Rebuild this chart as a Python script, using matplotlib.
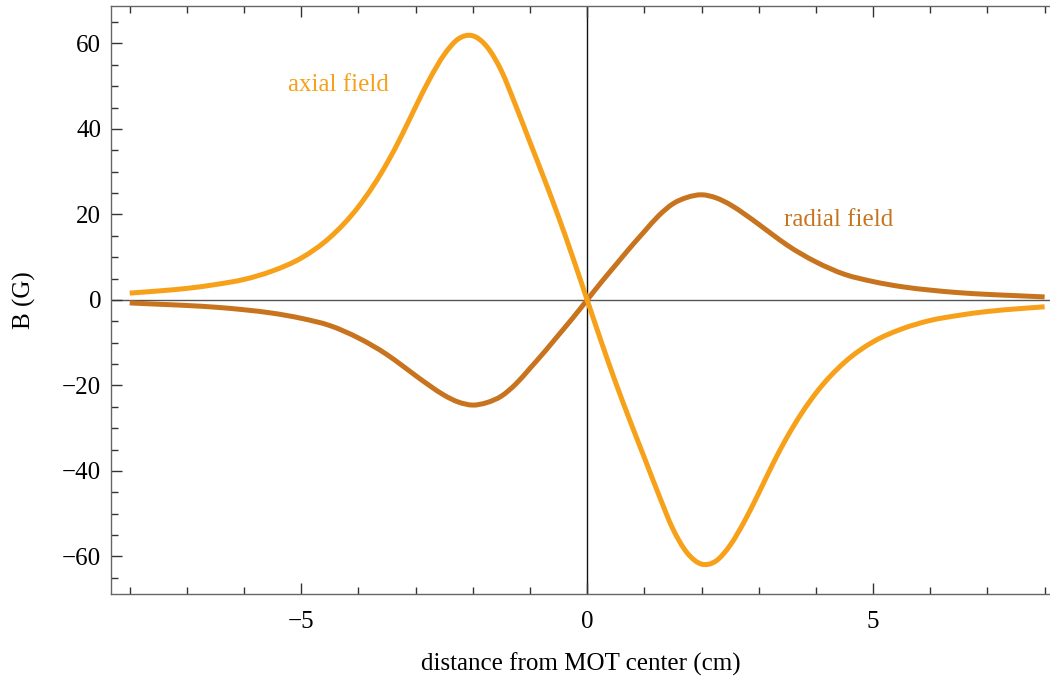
import matplotlib
matplotlib.use("Agg")
import matplotlib.pyplot as plt
from matplotlib.ticker import MultipleLocator, FixedLocator
from matplotlib.path import Path
from matplotlib.patches import PathPatch

# distance from MOT center (cm)
x_vals = [-8.0, -7.5, -7.0, -6.5, -6.0, -5.5, -5.0, -4.5, -4.0, -3.5,
          -3.25, -3.0, -2.75, -2.5, -2.25, -2.0, -1.75, -1.5, -1.25, -1.0,
          -0.75, -0.5, -0.25, 0.0, 0.25, 0.5, 0.75, 1.0, 1.25, 1.5,
          1.75, 2.0, 2.25, 2.5, 2.75, 3.0, 3.25, 3.5, 4.0, 4.5,
          5.0, 5.5, 6.0, 6.5, 7.0, 7.5, 8.0]

# axial field B (G)
axial = [1.6, 2.1, 2.7, 3.6, 4.8, 6.8, 9.8, 14.6, 21.8, 32.0,
         38.3, 45.2, 51.8, 57.4, 61.1, 61.8, 59.2, 53.6, 45.5, 36.9,
         28.3, 19.4, 9.9, 0.0, -9.9, -19.4, -28.3, -36.9, -45.5, -53.6,
         -59.2, -61.8, -61.1, -57.4, -51.8, -45.2, -38.3, -32.0, -21.8, -14.6,
         -9.8, -6.8, -4.8, -3.6, -2.7, -2.1, -1.6]

# radial field B (G)
radial = [-0.7, -1.0, -1.3, -1.7, -2.3, -3.1, -4.3, -6.0, -8.9, -12.8,
          -15.2, -17.7, -20.1, -22.3, -23.9, -24.6, -24.0, -22.5, -19.7, -16.0,
          -12.2, -8.2, -4.2, 0.0, 4.2, 8.2, 12.2, 16.0, 19.7, 22.5,
          24.0, 24.6, 23.9, 22.3, 20.1, 17.7, 15.2, 12.8, 8.9, 6.0,
          4.3, 3.1, 2.3, 1.7, 1.3, 1.0, 0.7]

x_major = [-5, 0, 5]
x_tick_labels = ["\u22125", "0", "5"]
y_major = [-60, -40, -20, 0, 20, 40, 60]
y_tick_labels = ["\u221260", "\u221240", "\u221220", "0", "20", "40", "60"]

axial_color = "#F7A11A"
radial_color = "#C8741F"


def smooth_path(xs, ys):
    """Cubic Hermite curve through the data points, drawn as Bezier segments."""
    n = len(xs)
    h = [xs[i + 1] - xs[i] for i in range(n - 1)]
    d = [(ys[i + 1] - ys[i]) / h[i] for i in range(n - 1)]
    m = [d[0]]
    for i in range(1, n - 1):
        w0 = h[i - 1] / (h[i - 1] + h[i])
        w1 = h[i] / (h[i - 1] + h[i])
        m.append(w0 * d[i] + w1 * d[i - 1])
    m.append(d[-1])
    verts = [(xs[0], ys[0])]
    codes = [Path.MOVETO]
    for i in range(n - 1):
        t = h[i] / 3.0
        verts += [(xs[i] + t, ys[i] + m[i] * t),
                  (xs[i + 1] - t, ys[i + 1] - m[i + 1] * t),
                  (xs[i + 1], ys[i + 1])]
        codes += [Path.CURVE4] * 3
    return Path(verts, codes)


plt.rcParams["font.family"] = ["Liberation Serif", "DejaVu Serif"]
plt.rcParams["font.size"] = 18

fig = plt.figure(figsize=(10.5, 6.83), dpi=100)
ax = fig.add_axes([111 / 1050, 1 - 594 / 683, 1 - 111 / 1050, (594 - 6.3) / 683])

ax.axhline(0, color="#555555", lw=1.0, zorder=1)
ax.axvline(0, color="#111111", lw=1.0, zorder=1)

ax.add_patch(PathPatch(smooth_path(x_vals, radial), fill=False,
                       edgecolor=radial_color, lw=3.6, capstyle="butt", zorder=2))
ax.add_patch(PathPatch(smooth_path(x_vals, axial), fill=False,
                       edgecolor=axial_color, lw=3.6, capstyle="butt", zorder=3))

ax.set_xlim(-8.327, 8.094)
ax.set_ylim(-68.8, 68.7)

ax.xaxis.set_major_locator(FixedLocator(x_major))
ax.set_xticklabels(x_tick_labels)
ax.xaxis.set_minor_locator(MultipleLocator(1))
ax.yaxis.set_major_locator(FixedLocator(y_major))
ax.set_yticklabels(y_tick_labels)
ax.yaxis.set_minor_locator(MultipleLocator(5))

ax.tick_params(which="both", direction="in", top=True, right=False,
               color="#333333", width=1.0)
ax.tick_params(which="major", length=8)
ax.tick_params(which="minor", length=4.8)
ax.tick_params(axis="x", which="major", pad=12)
ax.tick_params(axis="y", which="major", pad=7)

for side in ["left", "bottom", "top"]:
    ax.spines[side].set_color("#666666")
    ax.spines[side].set_linewidth(1.0)
ax.spines["right"].set_visible(False)

ax.set_xlabel("distance from MOT center (cm)", labelpad=14)
ax.set_ylabel("B (G)", labelpad=19)

ax.text(-5.24, 50.2, "axial field", color=axial_color, ha="left", va="center")
ax.text(3.44, 18.6, "radial field", color=radial_color, ha="left", va="center")

fig.savefig("out.png", dpi=100)
